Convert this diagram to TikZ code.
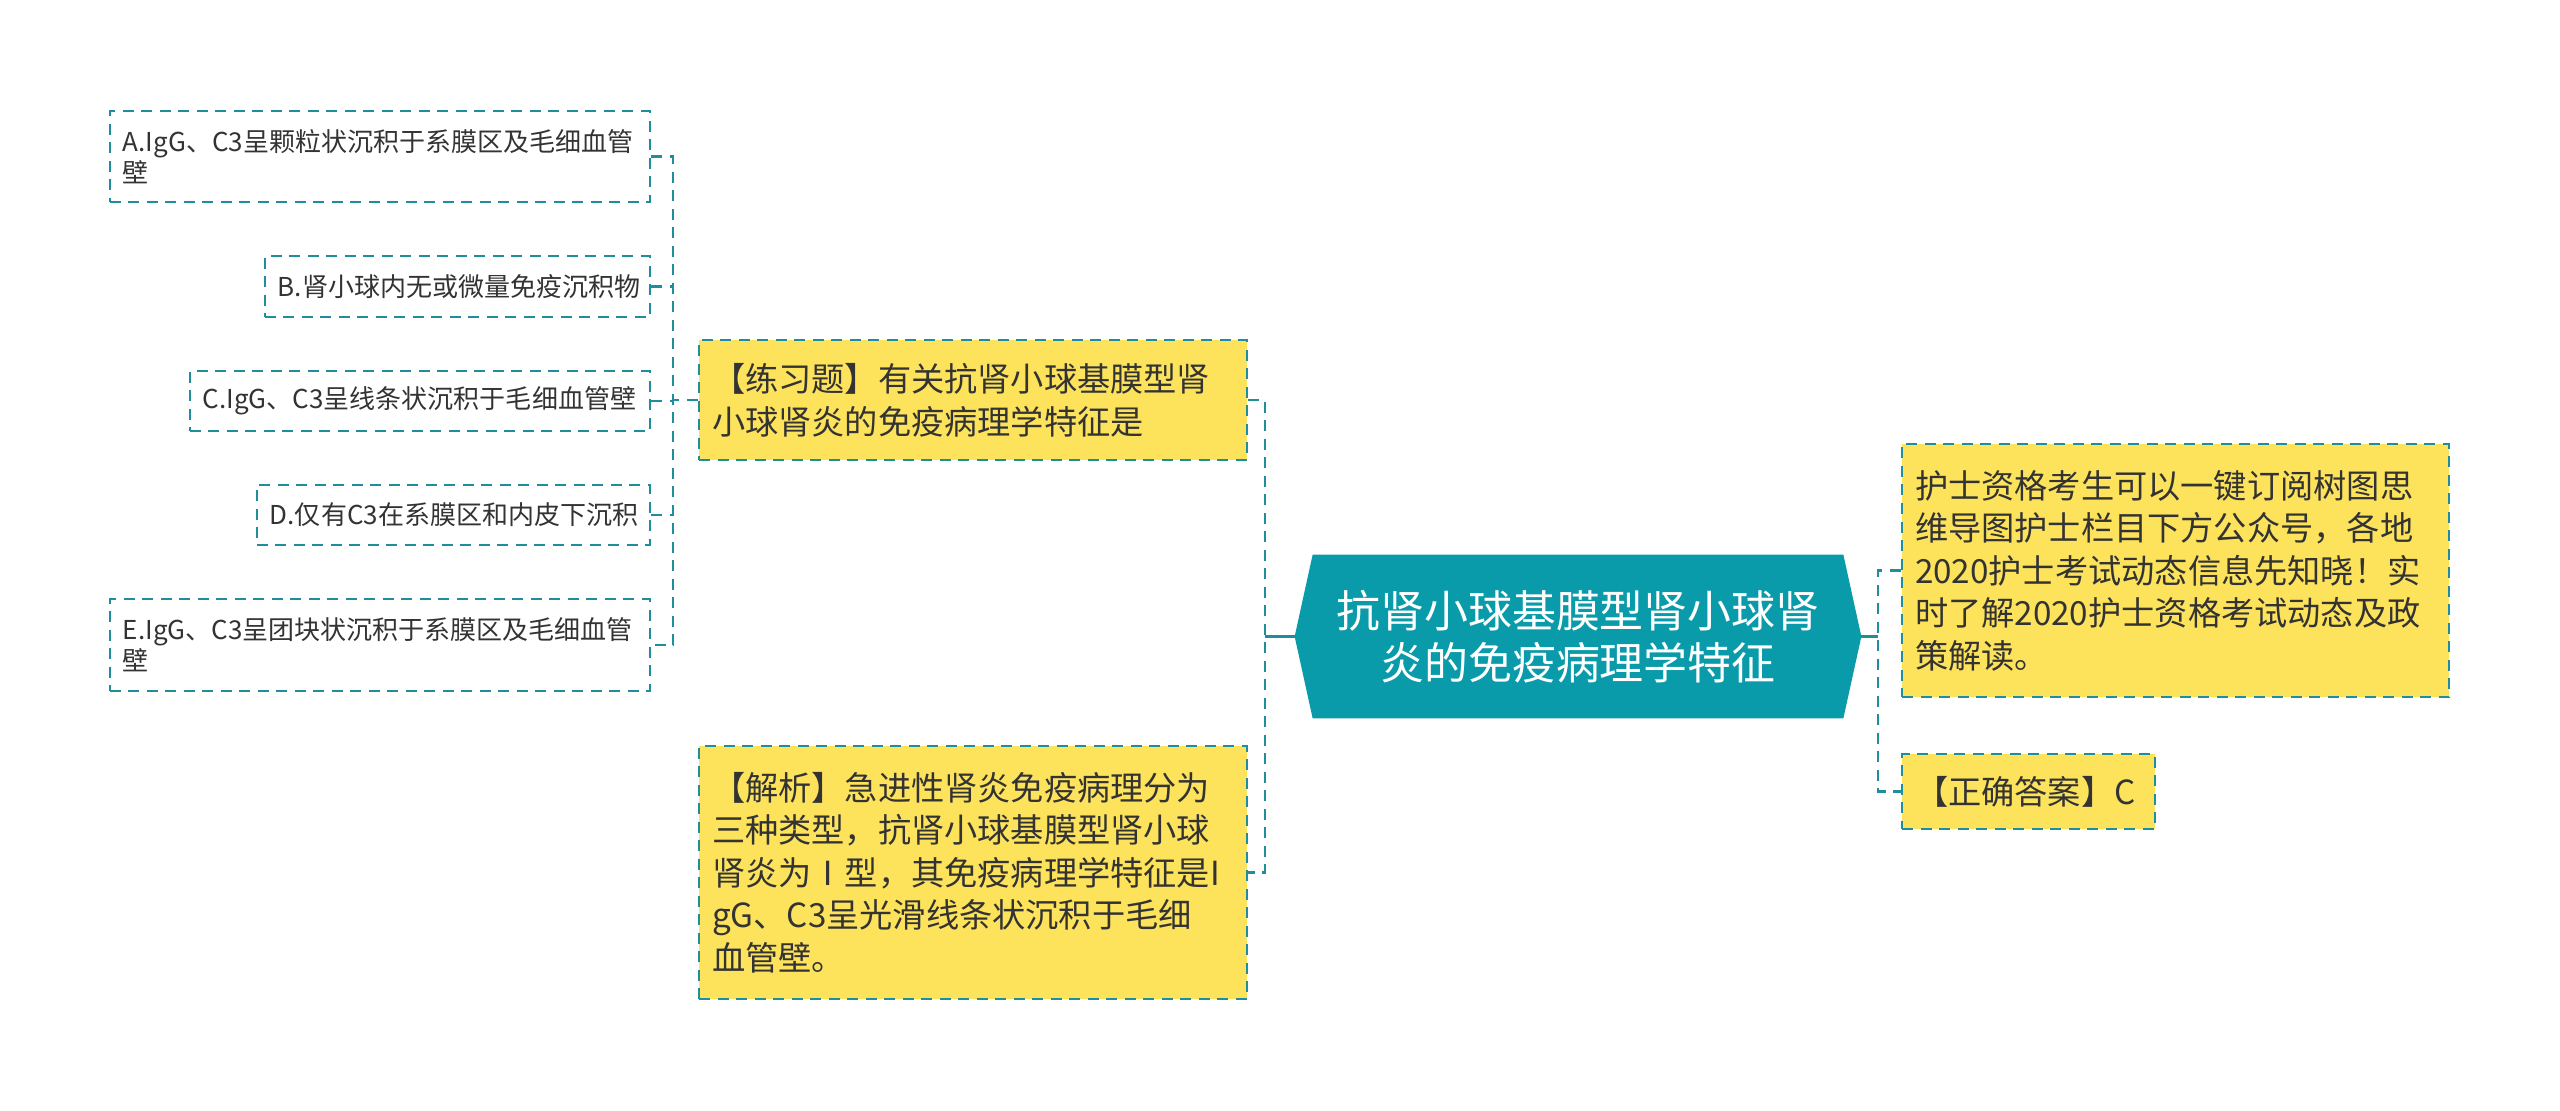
\documentclass[tikz,border=0pt]{standalone}
\usepackage{fontspec}
\setmainfont{Noto Sans CJK SC}
\usetikzlibrary{backgrounds}

\definecolor{tealline}{HTML}{1F8E9C}
\definecolor{rootfill}{HTML}{0A9BAB}
\definecolor{notefill}{HTML}{FDE35B}
\definecolor{txt}{HTML}{333333}

\begin{document}
\begin{tikzpicture}[x=0.2mm, y=-0.2mm,
    dashbox/.style={draw=tealline, line width=0.45mm, dash pattern=on 2.2mm off 1.5mm,
      text=txt, align=left, inner xsep=2.6mm, inner ysep=0pt},
    optbox/.style={dashbox, anchor=east, font=\fontsize{14.8}{17.6}\selectfont},
    notebox/.style={dashbox, fill=notefill, font=\fontsize{18.9}{24.2}\selectfont},
    link/.style={draw=tealline, line width=0.45mm, dash pattern=on 2.2mm off 1.5mm},
    stub/.style={draw=tealline, line width=0.55mm}]

	\useasboundingbox (0,0) rectangle (2560,1111);

	% centre topic
	\node[font=\fontsize{25}{29.6}\selectfont, text=white, align=center,
	      minimum width=113.2mm, minimum height=32.6mm, inner sep=0pt] (root) at (1578,636.5)
	      {抗肾小球基膜型肾小球肾\\炎的免疫病理学特征};
	\begin{pgfonlayer}{background}
		\fill[rootfill] (root.west) -- ([xshift=3.6mm]root.north west) -- ([xshift=-3.6mm]root.north east)
		  -- (root.east) -- ([xshift=-3.6mm]root.south east) -- ([xshift=3.6mm]root.south west) -- cycle;
	\end{pgfonlayer}

	% question and explanation
	\node[notebox, text width=104.4mm, minimum height=24mm] (quiz) at (973,400)
	      {【练习题】有关抗肾小球基膜型肾\\小球肾炎的免疫病理学特征是};
	\node[notebox, text width=104.4mm, minimum height=50.6mm] (expl) at (973,872.5)
	      {【解析】急进性肾炎免疫病理分为\\三种类型，抗肾小球基膜型肾小球\\肾炎为Ⅰ型，其免疫病理学特征是I\\gG、C3呈光滑线条状沉积于毛细\\血管壁。};

	% answer options
	\node[optbox, text width=102.8mm, minimum height=18.2mm] (optA) at (651,156.5)
	      {A.IgG、C3呈颗粒状沉积于系膜区及毛细血管\\壁};
	\node[optbox, text width=71.8mm, minimum height=12.2mm] (optB) at (651,286.5)
	      {B.肾小球内无或微量免疫沉积物};
	\node[optbox, text width=86.8mm, minimum height=12mm] (optC) at (651,401)
	      {C.IgG、C3呈线条状沉积于毛细血管壁};
	\node[optbox, text width=73.4mm, minimum height=12mm] (optD) at (651,515)
	      {D.仅有C3在系膜区和内皮下沉积};
	\node[optbox, text width=102.8mm, minimum height=18.4mm] (optE) at (651,645)
	      {E.IgG、C3呈团块状沉积于系膜区及毛细血管\\壁};

	% right side
	\node[notebox, text width=104.2mm, minimum height=50.6mm] (tip) at (2175.5,570.5)
	      {护士资格考生可以一键订阅树图思\\维导图护士栏目下方公众号，各地\\2020护士考试动态信息先知晓！实\\时了解2020护士资格考试动态及政\\策解读。};
	\node[notebox, text width=45.4mm, minimum height=15mm] (answer) at (2028.5,791.5)
	      {【正确答案】C};

	% connectors
	\coordinate (lbus) at (673,400);
	\coordinate (mbus) at (1265,636.5);
	\coordinate (rbus) at (1878,636.5);

	\draw[link] (quiz.west) -- (lbus);
	\draw[link] (optA.east) -- (optA.east -| lbus) -- (optE.east -| lbus) -- (optE.east);
	\foreach \opt in {optB,optC,optD}
		\draw[link] (\opt.east) -- (\opt.east -| lbus);

	\draw[link] (quiz.east) -- (quiz.east -| mbus) -- (expl.east -| mbus) -- (expl.east);
	\draw[stub] (root.west) -- (mbus);

	\draw[stub] (root.east) -- (rbus);
	\draw[link] (tip.west) -- (tip.west -| rbus) -- (answer.west -| rbus) -- (answer.west);

\end{tikzpicture}
\end{document}
